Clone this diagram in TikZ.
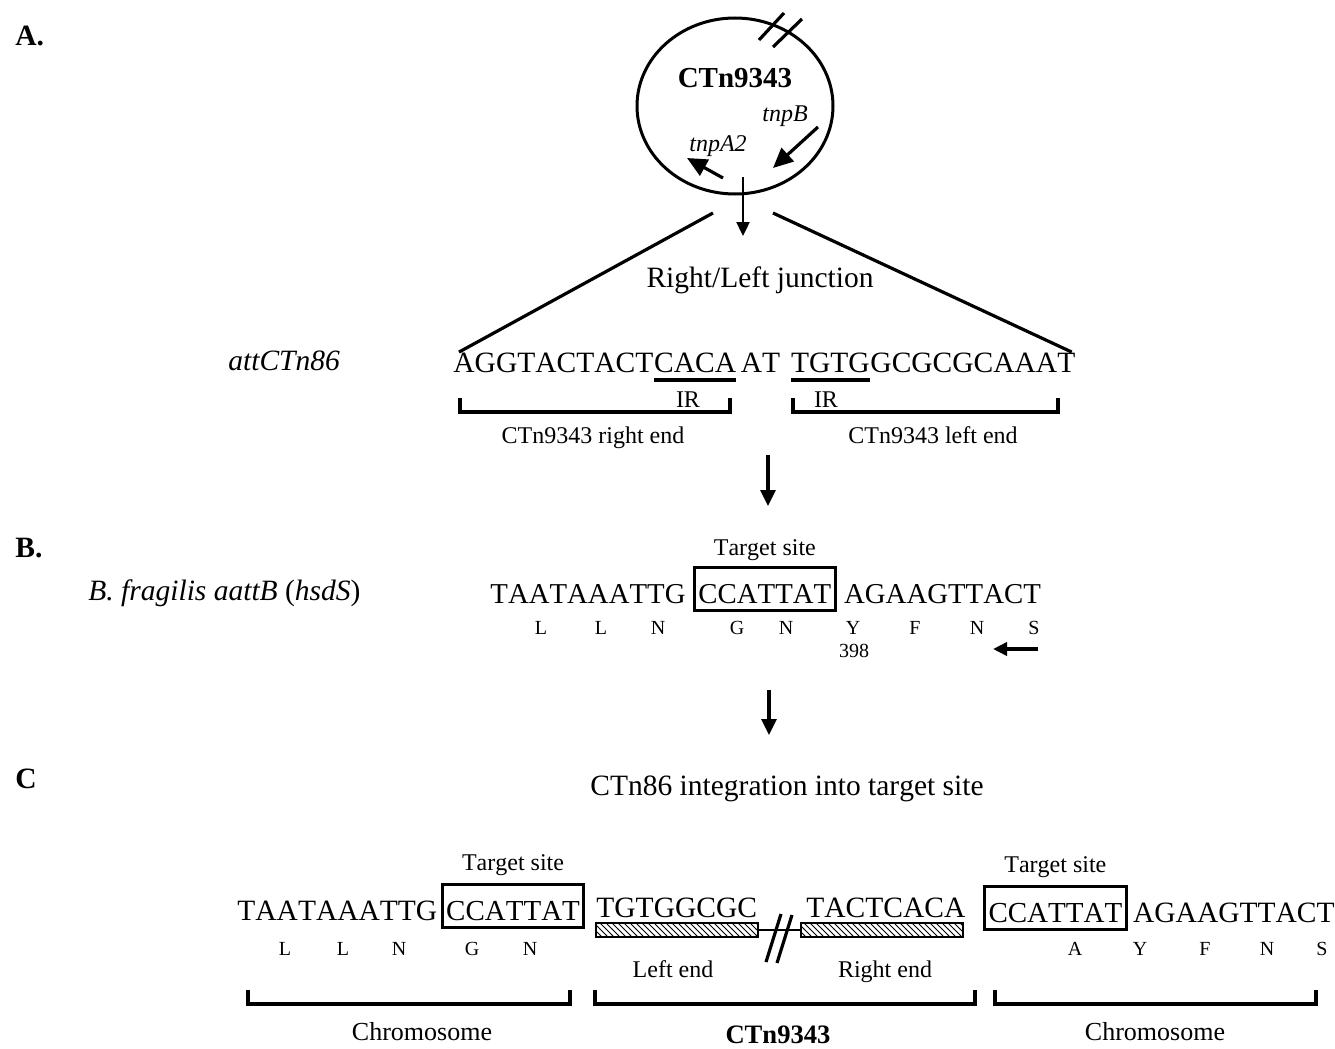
\documentclass[tikz,border=0pt]{standalone}
\usepackage{fontspec}
\setmainfont[Kerning=Off]{Liberation Serif}
\usetikzlibrary{arrows.meta,positioning,patterns,calc,shapes.geometric}
\tikzset{
  seq/.style={inner sep=0pt,font=\fontsize{14.75}{16}\selectfont},
  lab/.style={inner sep=0pt,font=\fontsize{12}{14}\selectfont},
  aa/.style={inner sep=0pt,font=\fontsize{10}{11}\selectfont},
  panel/.style={inner sep=0pt,font=\fontsize{14.75}{16}\selectfont\bfseries},
  sitebox/.style={draw,line width=1.5pt,inner xsep=2pt,inner ysep=3.5pt,text height=14.5pt,text depth=0pt,font=\fontsize{14.5}{16}\selectfont},
  endbar/.style={draw,line width=1pt,pattern=north west lines,minimum width=81pt,minimum height=7pt,inner sep=0pt},
  flow/.style={-{Triangle[length=8pt,width=7.5pt]},line width=1.6pt},
  genearrow/.style={-{Triangle[length=10pt,width=9pt]},line width=1.6pt},
  smallflow/.style={-{Triangle[length=7pt,width=6.5pt]},line width=1.2pt},
  leftarrow/.style={-{Triangle[length=7pt,width=6.5pt]},line width=1.8pt},
  thickline/.style={line width=1.6pt},
  brk/.style={line width=1.6pt},
  ulin/.style={line width=1.6pt},
}

\begin{document}
\begin{tikzpicture}[x=0.5pt,y=-0.5pt]
  \useasboundingbox (0,0) rectangle (1335,1049);

  % A. circular CTn9343
  \node[panel,anchor=base west] (pA) at (15,46) {A.};
  \node[draw,ellipse,line width=1.5pt,minimum width=98pt,minimum height=88pt,inner sep=0pt] (circ) at (735,106) {};
  \node[inner sep=0pt,font=\fontsize{14.5}{16}\selectfont\bfseries] (cname) at (735,78) {CTn9343};
  \node[lab,font=\fontsize{12}{14}\selectfont\itshape] (tnpb) at (785,116) {tnpB};
  \node[lab,font=\fontsize{12}{14}\selectfont\itshape] (tnpa) at (718,146) {tnpA2};
  \draw[thickline] (759,40) -- (784,13);
  \draw[thickline] (773,47) -- (802,19);
  \coordinate (bst) at (818,127);
  \coordinate (ben) at (773,168);
  \coordinate (ast) at (723,178);
  \coordinate (aen) at (687,158);
  \draw[genearrow] (bst) -- (ben);
  \draw[genearrow] (ast) -- (aen);
  \coordinate (dst) at (743,177);
  \coordinate (den) at (743,236);
  \draw[smallflow] (dst) -- (den);

  \node[seq,anchor=base] (junc) at (760,287) {Right/Left junction};
  \node[seq,anchor=base west,font=\fontsize{14.75}{16}\selectfont\itshape] (att) at (228,370) {attCTn86};
  \node[seq,anchor=base west] (s1) at (453,372) {AGGTACTACT};
  \node[seq,anchor=base west] (s2) at (s1.base east) {CACA};
  \node[seq,anchor=base west] (s3) at (s2.base east) {\kern2pt AT\kern5pt};
  \node[seq,anchor=base west] (s4) at (s3.base east) {TGTG};
  \node[seq,anchor=base west] (s5) at (s4.base east) {GCGCGCAAAT};
  \coordinate (jl) at (713,213);
  \coordinate (jr) at (773,213);
  \draw[thickline] (jl) -- ([xshift=3pt]s1.north west);
  \draw[thickline] (jr) -- ([xshift=-2pt]s5.north east);
  \draw[ulin] ([yshift=-4pt]s2.base west) -- ([yshift=-4pt]s2.base east);
  \draw[ulin] ([yshift=-4pt]s4.base west) -- ([yshift=-4pt]s4.base east);
  \node[lab,anchor=base] (ir1) at (688,407) {IR};
  \node[lab,anchor=base] (ir2) at (826,407) {IR};
  \draw[brk] (460,398) |- (730,412) -- (730,398);
  \draw[brk] (793,398) |- (1058,412) -- (1058,398);
  \node[lab,anchor=base] (rend1) at (593,443) {CTn9343 right end};
  \node[lab,anchor=base] (lend1) at (933,443) {CTn9343 left end};
  \coordinate (ab1) at (768,455);
  \coordinate (ab2) at (768,506);
  \draw[flow] (ab1) -- (ab2);

  % B. target in hsdS
  \node[panel,anchor=base west] (pB) at (15,557) {B.};
  \node[seq,anchor=base west] (orgB) at (88,600) {\textit{B. fragilis aattB} (\textit{hsdS})};
  \node[seq,anchor=base west,font=\fontsize{14.4}{16}\selectfont] (b1) at (490,603) {TAATAAATTG};
  \node[sitebox,anchor=base west,font=\fontsize{14.4}{16}\selectfont] (b2) at ($(b1.base east)+(7,0)$) {CCATTAT};
  \node[seq,anchor=base west,font=\fontsize{14.4}{16}\selectfont] (b3) at ($(b2.base east)+(7,0)$) {AGAAGTTACT};
  \node[lab,anchor=base] (tsB) at ($(b2.north)+(0,-10)$) {Target site};
  \foreach \res/\xx [count=\i] in {L/541,L/601,N/658,G/737,N/786,Y/853,F/915,N/977,S/1034}
    \node[aa,anchor=base] (aab\i) at (\xx,634) {\res};
  \node[aa,anchor=base] (n398) at (854,657) {398};
  \coordinate (la1) at (1038,649);
  \coordinate (la2) at (993,649);
  \draw[leftarrow] (la1) -- (la2);
  \coordinate (ab3) at (769,690);
  \coordinate (ab4) at (769,735);
  \draw[flow] (ab3) -- (ab4);

  % C. integrated element
  \node[panel,anchor=base west] (pC) at (15,788) {C};
  \node[seq,anchor=base] (integ) at (787,795) {CTn86 integration into target site};
  \node[seq,anchor=base west] (c1) at (237,920) {TAATAAATTG};
  \node[sitebox,anchor=base west] (c2) at ($(c1.base east)+(3,0)$) {CCATTAT};
  \node[lab,anchor=base] (tsC1) at ($(c2.north)+(0,-12)$) {Target site};
  \node[seq,anchor=base west] (c3) at (596,917) {TGTGGCGC};
  \node[endbar,anchor=north west] (lbar) at (595,922) {};
  \node[endbar,anchor=north west] (rbar) at (800,922) {};
  \node[seq,anchor=base west] (c4) at (806,917) {TACTCACA};
  \draw[line width=1.2pt] (lbar.east) -- (rbar.west);
  \draw[thickline] (766,962) -- (781,914);
  \draw[thickline] (777,963) -- (792,915);
  \node[lab,anchor=base] (lend2) at (673,977) {Left end};
  \node[lab,anchor=base] (rend2) at (885,977) {Right end};
  \node[sitebox,anchor=base west] (c5) at (983,922) {CCATTAT};
  \node[seq,anchor=base west] (c6) at ($(c5.base east)+(5,0)$) {AGAAGTTACT};
  \node[lab,anchor=base] (tsC2) at ($(c5.north)+(0,-12)$) {Target site};
  \foreach \res/\xx [count=\i] in {L/285,L/343,N/399,G/472,N/530,A/1075,Y/1140,F/1205,N/1267,S/1322}
    \node[aa,anchor=base] (aac\i) at (\xx,955) {\res};
  \draw[brk] (248,990) |- (570,1004) -- (570,990);
  \draw[brk] (595,990) |- (975,1004) -- (975,990);
  \draw[brk] (995,990) |- (1316,1004) -- (1316,990);
  \node[lab,anchor=base,font=\fontsize{13}{15}\selectfont] (chr1) at (422,1040) {Chromosome};
  \node[lab,anchor=base,font=\fontsize{13.3}{15}\selectfont\bfseries] (ctn) at (778,1043) {CTn9343};
  \node[lab,anchor=base,font=\fontsize{13}{15}\selectfont] (chr2) at (1155,1040) {Chromosome};
\end{tikzpicture}
\end{document}
